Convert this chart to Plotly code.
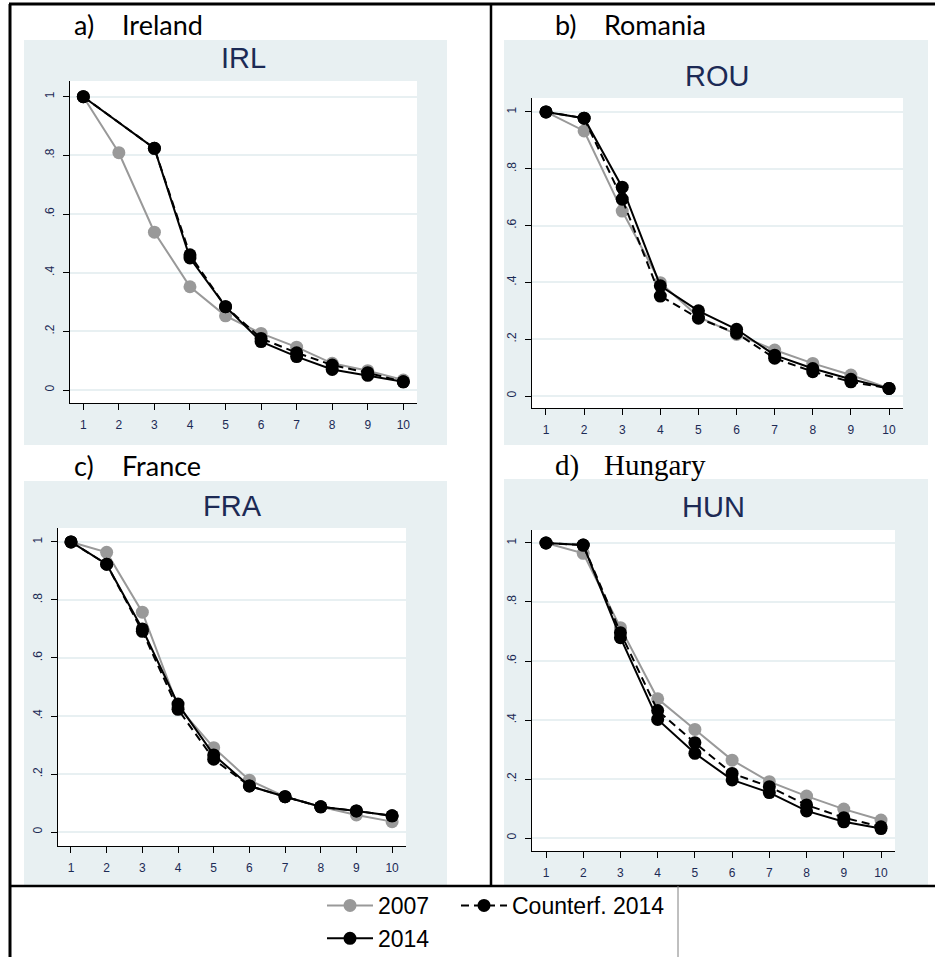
import plotly.graph_objects as go

W, H = 935, 957

deciles = [1, 2, 3, 4, 5, 6, 7, 8, 9, 10]
x_ticks = [1, 2, 3, 4, 5, 6, 7, 8, 9, 10]
y_ticks = [0, 0.2, 0.4, 0.6, 0.8, 1]
y_tick_labels = ["0", ".2", ".4", ".6", ".8", "1"]

series_names = ["2007", "2014", "Counterf. 2014"]

countries = ["IRL", "ROU", "FRA", "HUN"]
headers = [("a)", "Ireland"), ("b)", "Romania"), ("c)", "France"), ("d)", "Hungary")]

irl_2007 = [1.0, 0.809, 0.538, 0.352, 0.253, 0.193, 0.146, 0.091, 0.066, 0.034]
irl_2014 = [1.0, None, 0.824, 0.450, 0.284, 0.165, 0.114, 0.070, 0.050, 0.028]
irl_cf = [1.0, None, 0.824, 0.461, 0.284, 0.176, 0.127, 0.085, 0.059, 0.028]

rou_2007 = [1.0, 0.933, 0.651, 0.399, 0.279, 0.217, 0.162, 0.115, 0.074, 0.027]
rou_2014 = [1.0, 0.978, 0.735, 0.388, 0.300, 0.235, 0.144, 0.097, 0.059, 0.027]
rou_cf = [1.0, 0.978, 0.693, 0.352, 0.274, 0.221, 0.133, 0.086, 0.050, 0.027]

fra_2007 = [1.0, 0.964, 0.758, 0.432, 0.291, 0.179, 0.122, 0.087, 0.059, 0.036]
fra_2014 = [1.0, 0.923, 0.700, 0.441, 0.266, 0.159, 0.122, 0.087, 0.073, 0.056]
fra_cf = [1.0, 0.923, 0.692, 0.423, 0.251, 0.159, 0.122, 0.087, 0.073, 0.056]

hun_2007 = [1.0, 0.965, 0.713, 0.472, 0.368, 0.264, 0.191, 0.142, 0.098, 0.061]
hun_2014 = [1.0, 0.993, 0.679, 0.402, 0.287, 0.197, 0.154, 0.092, 0.055, 0.032]
hun_cf = [1.0, 0.993, 0.696, 0.432, 0.323, 0.219, 0.174, 0.112, 0.069, 0.038]

data = {
    "IRL": (irl_2007, irl_2014, irl_cf),
    "ROU": (rou_2007, rou_2014, rou_cf),
    "FRA": (fra_2007, fra_2014, fra_cf),
    "HUN": (hun_2007, hun_2014, hun_cf),
}

# layout geometry in pixels
plot_boxes = {  # x0, x1, y0, y1 (top-down pixels)
    "IRL": (70, 417, 81, 403),
    "ROU": (532, 903, 98, 408),
    "FRA": (58, 406, 528, 846),
    "HUN": (532, 895, 530, 851),
}
x_ranges = {"IRL": [0.626, 10.385], "ROU": [0.633, 10.367], "FRA": [0.636, 10.39], "HUN": [0.624, 10.376]}
y_ranges = {"IRL": [-0.0443, 1.0535], "ROU": [-0.042, 1.049], "FRA": [-0.048, 1.048], "HUN": [-0.044, 1.044]}
bg_boxes = {"IRL": (24, 447, 40, 445), "ROU": (504, 928, 40, 445), "FRA": (24, 447, 481, 887), "HUN": (504, 928, 479, 887)}
title_pos = {"IRL": (243, 58), "ROU": (717, 76), "FRA": (232, 506), "HUN": (713, 507)}
header_pos = {"IRL": (72, 120, 24), "ROU": (553, 602, 24), "FRA": (72, 120, 465), "HUN": (553, 602, 465)}

def px(x):
    return x / W

def py(y):
    return 1 - y / H

GREY = "#999999"
BLACK = "#000000"
NAVY = "#1c2a55"
BG = "#e8f0f2"

fig = go.Figure()
shapes = []
annotations = []

for i, c in enumerate(countries):
    xa = "x" if i == 0 else f"x{i+1}"
    ya = "y" if i == 0 else f"y{i+1}"
    s07, s14, scf = data[c]
    show = i == 0
    fig.add_trace(go.Scatter(
        x=deciles, y=s07, xaxis=xa, yaxis=ya, name=series_names[0], legend="legend",
        mode="lines+markers", line=dict(color=GREY, width=2), marker=dict(color=GREY, size=13),
        showlegend=show, legendrank=1, connectgaps=True))
    fig.add_trace(go.Scatter(
        x=deciles, y=scf, xaxis=xa, yaxis=ya, name=series_names[2], legend="legend2",
        mode="lines+markers", line=dict(color=BLACK, width=2, dash="8px,5px"), marker=dict(color=BLACK, size=13),
        showlegend=show, legendrank=3, connectgaps=True))
    fig.add_trace(go.Scatter(
        x=deciles, y=s14, xaxis=xa, yaxis=ya, name=series_names[1], legend="legend",
        mode="lines+markers", line=dict(color=BLACK, width=2), marker=dict(color=BLACK, size=13),
        showlegend=show, legendrank=2, connectgaps=True))

    x0, x1, y0, y1 = plot_boxes[c]
    axis_common = dict(showline=True, linecolor="black", linewidth=1.3, ticks="outside",
                       ticklen=6, tickwidth=1.3, tickcolor="black",
                       tickfont=dict(family="Liberation Sans, Arial", size=12, color=NAVY),
                       zeroline=False, fixedrange=True)
    fig.update_layout(**{
        ("xaxis" if i == 0 else f"xaxis{i+1}"): dict(
            domain=[px(x0), px(x1)], range=x_ranges[c], anchor=ya,
            tickvals=x_ticks, showgrid=False, ticklabelstandoff=4, **axis_common),
        ("yaxis" if i == 0 else f"yaxis{i+1}"): dict(
            domain=[py(y1), py(y0)], range=y_ranges[c], anchor=xa,
            tickvals=y_ticks, ticktext=y_tick_labels, tickangle=-90, ticklabelstandoff=4,
            showgrid=True, gridcolor=BG, gridwidth=2, **axis_common),
    })

    bx0, bx1, by0, by1 = bg_boxes[c]
    shapes.append(dict(type="rect", xref="paper", yref="paper", x0=px(bx0), x1=px(bx1),
                       y0=py(by1), y1=py(by0), fillcolor=BG, line=dict(width=0), layer="below"))
    shapes.append(dict(type="rect", xref="paper", yref="paper", x0=px(x0), x1=px(x1),
                       y0=py(y1), y1=py(y0), fillcolor="white", line=dict(width=0), layer="below"))

    tx, ty = title_pos[c]
    annotations.append(dict(text=c, x=px(tx), y=py(ty), xref="paper", yref="paper",
                            xanchor="center", yanchor="middle", showarrow=False,
                            font=dict(family="Liberation Sans, Arial", size=29, color=NAVY)))
    hx1, hx2, hy = header_pos[c]
    letter, name = headers[i]
    hfont = dict(family="Liberation Serif, Times New Roman", size=29, color="black") if c == "HUN" \
        else dict(family="Lato, Open Sans", size=27, color="black")
    annotations.append(dict(text=letter, x=px(hx1), y=py(hy), xref="paper", yref="paper",
                            xanchor="left", yanchor="middle", showarrow=False, font=hfont))
    annotations.append(dict(text=name, x=px(hx2), y=py(hy), xref="paper", yref="paper",
                            xanchor="left", yanchor="middle", showarrow=False, font=hfont))

# table-like borders
border = [
    (9, 4, 935, 4, 3, "black"),
    (10, 4, 10, 957, 3, "black"),
    (491, 4, 491, 886, 2.5, "black"),
    (9, 886, 935, 886, 2.5, "black"),
    (678, 886, 678, 957, 1, "#808080"),
]
for x0, y0, x1, y1, w, col in border:
    shapes.append(dict(type="line", xref="paper", yref="paper", x0=px(x0), y0=py(y0),
                       x1=px(x1), y1=py(y1), line=dict(color=col, width=w), layer="above"))

legend_font = dict(family="Liberation Sans, Arial", size=23, color="black")
fig.update_layout(
    width=W, height=H,
    margin=dict(l=0, r=0, t=0, b=0, autoexpand=False),
    paper_bgcolor="white",
    plot_bgcolor="rgba(0,0,0,0)",
    shapes=shapes,
    annotations=annotations,
    legend=dict(x=px(322), y=py(884), xanchor="left", yanchor="top", orientation="v",
                font=legend_font, bgcolor="rgba(0,0,0,0)", itemwidth=46, tracegroupgap=0),
    legend2=dict(x=px(456), y=py(884), xanchor="left", yanchor="top", orientation="v",
                 font=legend_font, bgcolor="rgba(0,0,0,0)", itemwidth=46),
)

fig.write_html("out.html", config={"displayModeBar": False},
               post_script="document.body.style.margin='0';")
